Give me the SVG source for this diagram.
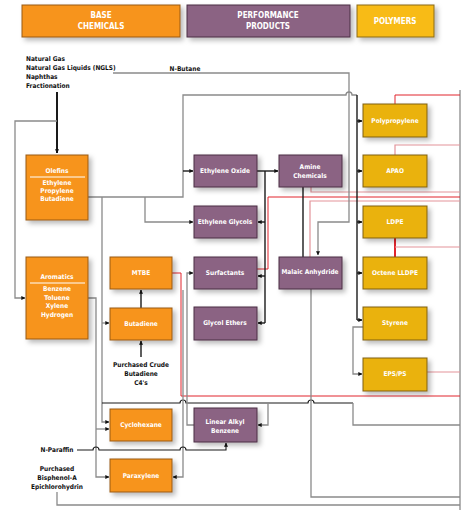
<svg xmlns="http://www.w3.org/2000/svg" width="462" height="510" viewBox="0 0 462 510">
<defs>
<filter id="sh" x="-20%" y="-20%" width="150%" height="160%">
<feDropShadow dx="3" dy="3" stdDeviation="2.5" flood-color="#000" flood-opacity="0.28"/>
</filter>
<marker id="ah" viewBox="0 0 6 6" refX="5.5" refY="3" markerWidth="4" markerHeight="4" orient="auto" markerUnits="userSpaceOnUse">
<path d="M0,0 L6,3 L0,6 z" fill="#111"/>
</marker>
</defs>
<style>
text{font-family:"Liberation Sans Narrow","DejaVu Sans Condensed","Liberation Sans",sans-serif;font-weight:bold;font-size:6.5px;text-anchor:middle}
.w{fill:#fff}
.k{fill:#111}
.hd{font-size:8px}
.or{fill:#f7941d;stroke:#9a5a14;stroke-width:1}
.pu{fill:#8b6383;stroke:#4a2f44;stroke-width:1}
.ye{fill:#eab20e;stroke:#806010;stroke-width:1}
.yh{fill:#f8bb18;stroke:#8a6a10;stroke-width:1}
.g{fill:none;stroke:#8a8a8a;stroke-width:1.3}
.b{fill:none;stroke:#1a1a1a;stroke-width:1.4}
.r{fill:none;stroke:#e1252d;stroke-width:1}
.p{fill:none;stroke:#e3939a;stroke-width:1.2}
</style>

<g id="header-base"><rect class="or" x="22" y="5" width="158" height="32" filter="url(#sh)"/><text class="w hd" x="101" y="18">BASE</text><text class="w hd" x="101" y="29">CHEMICALS</text></g>
<g id="header-performance"><rect class="pu" x="187" y="5" width="163" height="32" filter="url(#sh)"/><text class="w hd" x="268" y="18">PERFORMANCE</text><text class="w hd" x="268" y="29">PRODUCTS</text></g>
<g id="header-polymers"><rect class="yh" x="357" y="5" width="77" height="32" filter="url(#sh)"/><text class="w hd" x="395" y="24">POLYMERS</text></g>

<g id="feedstock" class="k">
<text x="26" y="61" style="text-anchor:start">Natural Gas</text>
<text x="26" y="70" style="text-anchor:start">Natural Gas Liquids (NGLS)</text>
<text x="26" y="79" style="text-anchor:start">Naphthas</text>
<text x="26" y="88" style="text-anchor:start">Fractionation</text>
<text x="185" y="71">N-Butane</text>
<text x="141" y="367">Purchased Crude</text>
<text x="141" y="376">Butadiene</text>
<text x="141" y="385">C4's</text>
<text x="57" y="452">N-Paraffin</text>
<text x="57" y="471">Purchased</text>
<text x="57" y="480">Bisphenol-A</text>
<text x="57" y="489">Epichlorohydrin</text>
</g>

<g id="connectors">
<path class="g" d="M460,90 V510"/>
<path class="r" d="M395,104 V95 H460"/>
<path class="p" d="M395,155 V145 H460"/>
<path class="p" d="M311,187 V192 H460"/>
<path class="r" d="M257,269 H268 V197 H460"/>
<path class="p" d="M310,257 V201 H460"/>
<path class="r" d="M395,238 V257" style="stroke-width:2"/>
<path class="p" d="M395,247 H460"/>
<path class="p" d="M427,372 H460"/>
<path class="r" d="M172,273 H181 V396 H460"/>

<path class="b" d="M57,92 V153" style="stroke-width:2" marker-end="url(#ah)"/>
<path class="g" d="M57,121 H15 V298 H25" marker-end="url(#ah)"/>
<path class="g" d="M88,197 H183 V95 H346 a3,3 0 0 1 6,0 H357"/>
<path class="g" d="M113,73 H349 V222 H318 V255" marker-end="url(#ah)"/>
<path class="b" d="M183,171 H193" marker-end="url(#ah)"/>
<path class="g" d="M145,197 V222 H193" marker-end="url(#ah)"/>
<path class="b" d="M357,95 V320"/>
<path class="b" d="M357,121 H362" marker-end="url(#ah)"/>
<path class="b" d="M357,171 H362" marker-end="url(#ah)"/>
<path class="b" d="M357,222 H362" marker-end="url(#ah)"/>
<path class="b" d="M357,273 H362" marker-end="url(#ah)"/>
<path class="b" d="M357,320 H362" marker-end="url(#ah)"/>
<path class="g" d="M363,327 H353 V374 H362" marker-end="url(#ah)"/>
<path class="b" d="M257,171 H278" marker-end="url(#ah)"/>
<path class="b" d="M265,171 V323"/>
<path class="b" d="M265,222 H258" marker-end="url(#ah)"/>
<path class="b" d="M265,276 H258" marker-end="url(#ah)"/>
<path class="b" d="M265,323 H258" marker-end="url(#ah)"/>
<path class="b" d="M303,187 V257"/>
<path class="b" d="M141,308 V290" marker-end="url(#ah)"/>
<path class="b" d="M141,357 V341" marker-end="url(#ah)"/>
<path class="g" d="M102,197 V422 H109" marker-end="url(#ah)"/>
<path class="g" d="M102,323 H109" marker-end="url(#ah)"/>
<path class="g" d="M88,298 H96 V477 H109" marker-end="url(#ah)"/>
<path class="g" d="M96,429 H109" marker-end="url(#ah)"/>
<path class="b" d="M102,403 H180 a3,3 0 0 1 6,0 H308 a3,3 0 0 1 6,0 H353" style="stroke-width:1.1"/>
<path class="g" d="M353,403 V425 H460"/>
<path class="g" d="M268,403 V425 H258" marker-end="url(#ah)"/>
<path class="g" d="M194,425 H187 V273 H193" marker-end="url(#ah)"/>
<path class="g" d="M183,290 V477 H173" marker-end="url(#ah)"/>
<path class="b" d="M77,450 H93 a3,3 0 0 1 6,0 H180 a3,3 0 0 1 6,0 H226 V443" style="stroke-width:1.1" marker-end="url(#ah)"/>
<path class="g" d="M57,492 V505 H460"/>
<path class="g" d="M311,289 V497 H460"/>
</g>

<g id="olefins"><rect class="or" x="26" y="155" width="62" height="65" filter="url(#sh)"/><text class="w" x="57" y="173">Olefins</text><path d="M30,177 H85" stroke="#fff" stroke-width="1"/><text class="w" x="57" y="185">Ethylene</text><text class="w" x="57" y="193">Propylene</text><text class="w" x="57" y="201">Butadiene</text></g>
<g id="aromatics"><rect class="or" x="26" y="257" width="62" height="82" filter="url(#sh)"/><text class="w" x="57" y="279">Aromatics</text><path d="M30,283 H85" stroke="#fff" stroke-width="1"/><text class="w" x="57" y="291">Benzene</text><text class="w" x="57" y="300">Toluene</text><text class="w" x="57" y="308">Xylene</text><text class="w" x="57" y="317">Hydrogen</text></g>
<g id="mtbe"><rect class="or" x="110" y="257" width="62" height="32" filter="url(#sh)"/><text class="w" x="141" y="275">MTBE</text></g>
<g id="butadiene"><rect class="or" x="110" y="308" width="62" height="32" filter="url(#sh)"/><text class="w" x="141" y="326">Butadiene</text></g>
<g id="cyclohexane"><rect class="or" x="110" y="409" width="62" height="32" filter="url(#sh)"/><text class="w" x="141" y="427">Cyclohexane</text></g>
<g id="paraxylene"><rect class="or" x="110" y="459" width="62" height="33" filter="url(#sh)"/><text class="w" x="141" y="478">Paraxylene</text></g>

<g id="ethylene-oxide"><rect class="pu" x="194" y="155" width="63" height="32" filter="url(#sh)"/><text class="w" x="225" y="173">Ethylene Oxide</text></g>
<g id="ethylene-glycols"><rect class="pu" x="194" y="206" width="63" height="32" filter="url(#sh)"/><text class="w" x="225" y="224">Ethylene Glycols</text></g>
<g id="amine-chemicals"><rect class="pu" x="279" y="155" width="63" height="32" filter="url(#sh)"/><text class="w" x="310" y="169">Amine</text><text class="w" x="310" y="178">Chemicals</text></g>
<g id="surfactants"><rect class="pu" x="194" y="257" width="63" height="32" filter="url(#sh)"/><text class="w" x="225" y="275">Surfactants</text></g>
<g id="glycol-ethers"><rect class="pu" x="194" y="307" width="63" height="33" filter="url(#sh)"/><text class="w" x="225" y="325">Glycol Ethers</text></g>
<g id="malaic-anhydride"><rect class="pu" x="279" y="257" width="63" height="32" filter="url(#sh)"/><text class="w" x="310" y="274">Malaic Anhydride</text></g>
<g id="linear-alkyl-benzene"><rect class="pu" x="194" y="408" width="63" height="34" filter="url(#sh)"/><text class="w" x="225" y="424">Linear Alkyl</text><text class="w" x="225" y="433">Benzene</text></g>

<g id="polypropylene"><rect class="ye" x="363" y="104" width="64" height="33" filter="url(#sh)"/><text class="w" x="395" y="123">Polypropylene</text></g>
<g id="apao"><rect class="ye" x="363" y="155" width="64" height="32" filter="url(#sh)"/><text class="w" x="395" y="173">APAO</text></g>
<g id="ldpe"><rect class="ye" x="363" y="206" width="64" height="32" filter="url(#sh)"/><text class="w" x="395" y="224">LDPE</text></g>
<g id="octene-lldpe"><rect class="ye" x="363" y="257" width="64" height="32" filter="url(#sh)"/><text class="w" x="395" y="275">Octene LLDPE</text></g>
<g id="styrene"><rect class="ye" x="363" y="307" width="64" height="33" filter="url(#sh)"/><text class="w" x="395" y="325">Styrene</text></g>
<g id="eps-ps"><rect class="ye" x="363" y="358" width="64" height="33" filter="url(#sh)"/><text class="w" x="395" y="376">EPS/PS</text></g>
</svg>
